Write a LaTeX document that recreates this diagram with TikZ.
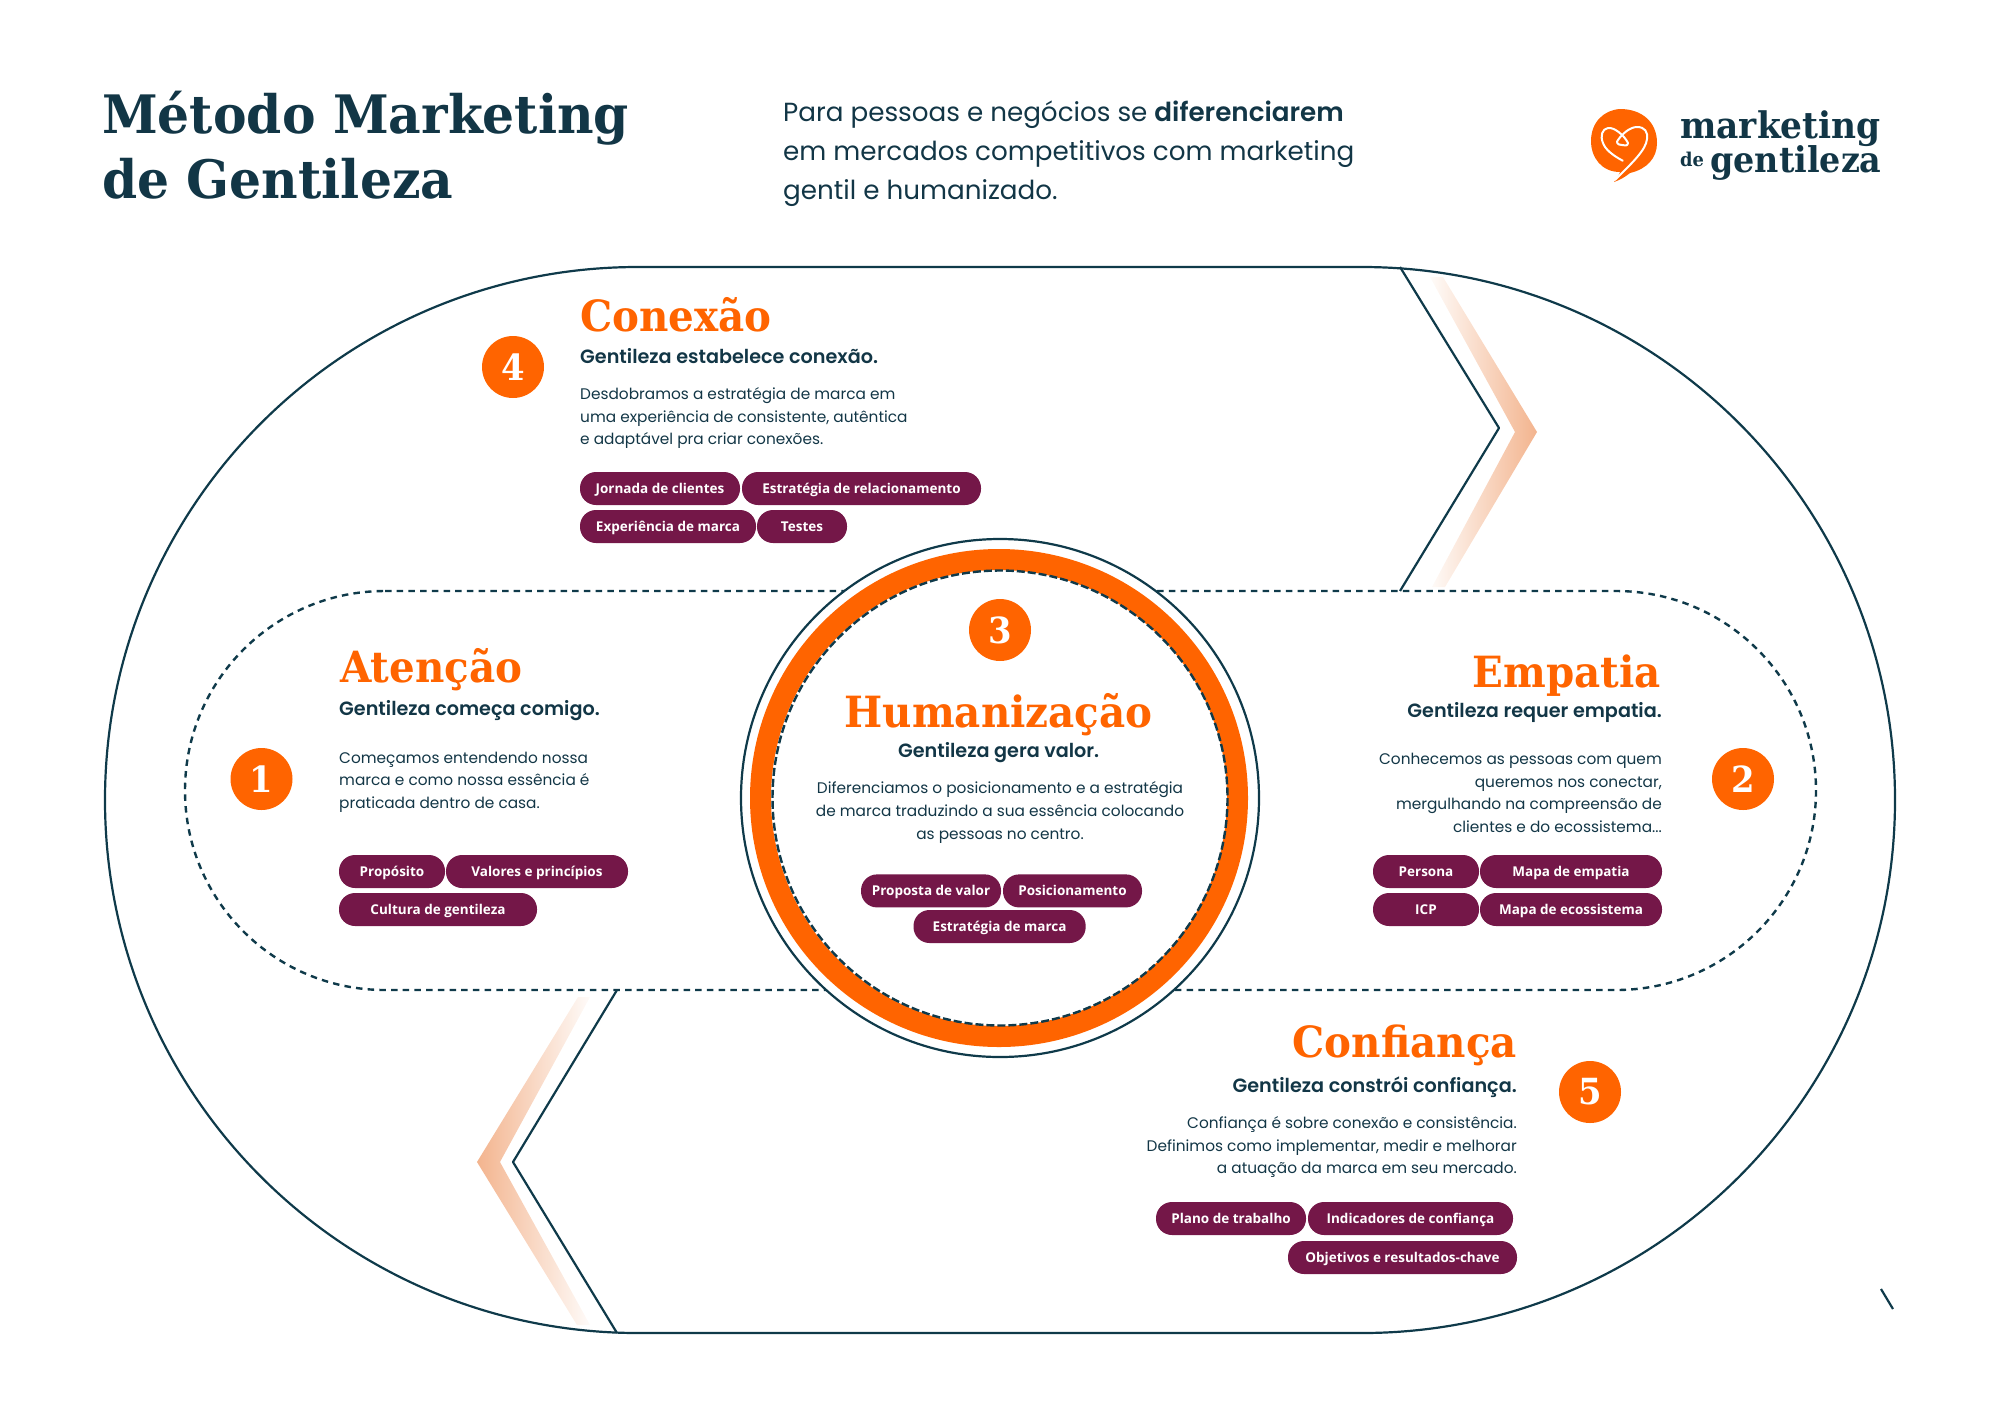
\documentclass[tikz,border=0pt]{standalone}
\usepackage{fontspec}
\setmainfont{Poppins}
\newfontfamily\headf{DejaVu Serif}[FakeStretch=0.94]
\newfontfamily\titlef{DejaVu Serif}[FakeStretch=0.95]
\newfontfamily\bodyf{Poppins}[BoldFont={Poppins SemiBold}]
\newfontfamily\pillf{Open Sans}
\definecolor{navy}{HTML}{123646}
\definecolor{lnavy}{HTML}{0F3A4A}
\definecolor{orange}{HTML}{FF6400}
\definecolor{wine}{HTML}{741748}
\definecolor{peach}{HTML}{F3B48E}
\tikzset{
  x=1pt,y=-1pt,
  mainline/.style={draw=lnavy,line width=2.2pt,line join=round},
  dashline/.style={draw=lnavy,line width=2.4pt,dash pattern=on 6.5pt off 5.2pt},
  headt/.style={inner sep=0pt,text=orange,font={\headf\bfseries\fontsize{43}{43}\selectfont}},
  subt/.style={inner sep=0pt,text=navy,font={\bodyf\bfseries\fontsize{19.2}{20}\selectfont}},
  bodyt/.style={inner sep=0pt,text=navy,font={\bodyf\fontsize{15.35}{22.6}\selectfont}},
  pill/.style={fill=wine,rounded corners=16pt,inner sep=0pt},
  pillt/.style={inner sep=0pt,anchor=base,text=white,font={\pillf\bfseries\fontsize{13.5}{13.5}\selectfont}},
  numb/.style={circle,fill=orange,minimum size=62pt,inner sep=0pt,text=white,font={\headf\bfseries\fontsize{36}{36}\selectfont}},
  titlet/.style={anchor=base west,inner sep=0pt,text=navy,font={\titlef\bfseries\fontsize{53}{53}\selectfont}},
  leadt/.style={anchor=base west,inner sep=0pt,text=navy,font={\bodyf\fontsize{26.2}{27}\selectfont}},
}
\newcommand{\pillbox}[6]{% name,x1,y1,x2,y2,text
  \fill[pill] (#2,#3) rectangle (#4,#5);
  \node[pillt] (#1) at ({(#2+#4)/2},{(#3+#5)/2+4.7}) {#6};}
\begin{document}
\begin{tikzpicture}
\useasboundingbox (0,0) rectangle (2000,1414);
% outer pill
\draw[mainline] (638,267) -- (1362,267) arc[start angle=90,end angle=-90,x radius=533,y radius=-533]
  -- (638,1333) arc[start angle=-90,end angle=-270,x radius=533,y radius=-533] -- cycle;
% dashed pill
\draw[dashline] (385,591) -- (1616,591) arc[start angle=90,end angle=-90,x radius=200,y radius=-199.5]
  -- (385,990) arc[start angle=-90,end angle=-270,x radius=200,y radius=-199.5] -- cycle;
% chevrons
\shade[left color=peach!5!white,right color=peach] (1430,277) -- (1443,277) -- (1537,432) -- (1445,587) -- (1432,587) -- (1515,432) -- cycle;
\draw[mainline] (1400,267) -- (1499,428) -- (1400,591);
\shade[right color=peach!5!white,left color=peach] (578,997) -- (590,997) -- (500,1162) -- (590,1325) -- (577,1325) -- (477,1162) -- cycle;
\draw[mainline] (617,990) -- (513,1162) -- (617,1333);
\draw[lnavy,line width=2.2pt] (1881,1289) -- (1893,1309);
% central circle
\fill[white] (1000,798) circle[radius=259];
\draw[mainline] (1000,798) circle[radius=259];
\draw[orange,line width=21pt] (999,798) circle[radius=238.5];
\draw[draw=lnavy,line width=2.4pt,dash pattern=on 8pt off 3pt] (1000,798) circle[radius=227.5];
% header
\node[titlet] (title1) at (102,133) {Método Marketing};
\node[titlet] (title2) at (102,198) {de Gentileza};
\node[leadt] (lead1) at (783,121.5) {Para pessoas e negócios se \textbf{diferenciarem}};
\node[leadt] (lead2) at (783,160.5) {em mercados competitivos com marketing};
\node[leadt] (lead3) at (783,199) {gentil e humanizado.};
% logo
\fill[orange] (1620,109) .. controls (1642,109) and (1657,122) .. (1657,143)
  .. controls (1657,158) and (1647,169) .. (1630,173)
  .. controls (1625,177) and (1620,180) .. (1614,182)
  .. controls (1617,178) and (1619,175) .. (1620,172)
  .. controls (1602,172) and (1591,158) .. (1591,141)
  .. controls (1591,122) and (1604,110) .. (1620,109) -- cycle;
\draw[white,line width=2pt,line cap=round,line join=round] (1622.7,160.7)
  .. controls (1612,155) and (1605,149) .. (1603,143)
  .. controls (1600,136) and (1602,129) .. (1608,128)
  .. controls (1614,127) and (1624,135) .. (1628,143)
  .. controls (1628,146) and (1624,146) .. (1622,145)
  .. controls (1617,145) and (1616,142) .. (1618,140)
  .. controls (1622,134) and (1630,127) .. (1637,127)
  .. controls (1645,127) and (1648,132) .. (1647,139)
  .. controls (1646,150) and (1632,163) .. (1615,180);
\node[anchor=base west,inner sep=0pt,text=navy,font={\headf\bfseries\fontsize{36.6}{37}\selectfont}] (logo1) at (1680,138) {marketing};
\node[anchor=base west,inner sep=0pt,text=navy,font={\headf\bfseries\fontsize{19}{19}\selectfont}] (logo2) at (1680,166) {de};
\node[anchor=base west,inner sep=0pt,text=navy,font={\headf\bfseries\fontsize{35.5}{36}\selectfont}] (logo3) at (1710,172) {gentileza};
% numbers
\node[numb] (n1) at (261.5,779) {1};
\node[numb] (n2) at (1743,779) {2};
\node[numb] (n3) at (1000,630) {3};
\node[numb] (n4) at (513,367) {4};
\node[numb] (n5) at (1590,1092) {5};
% Conexao
\node[headt,anchor=base west] (h4) at (580,331) {Conexão};
\node[subt,anchor=base west] (s4) at (580,363) {Gentileza estabelece conexão.};
\node[bodyt,anchor=base west] (b4a) at (580,399) {Desdobramos a estratégia de marca em};
\node[bodyt,anchor=base west] (b4b) at (580,422) {uma experiência de consistente, autêntica};
\node[bodyt,anchor=base west] (b4c) at (580,444) {e adaptável pra criar conexões.};
\pillbox{p41}{580}{472}{740}{505}{Jornada de clientes}
\pillbox{p42}{742}{472}{981}{505}{Estratégia de relacionamento}
\pillbox{p43}{580}{510}{756}{543}{Experiência de marca}
\pillbox{p44}{757}{510}{847}{543}{Testes}
% Atencao
\node[headt,anchor=base west] (h1) at (340,682) {Atenção};
\node[subt,anchor=base west] (s1) at (339,715) {Gentileza começa comigo.};
\node[bodyt,anchor=base west] (b1a) at (339,763) {Começamos entendendo nossa};
\node[bodyt,anchor=base west] (b1b) at (339,785) {marca e como nossa essência é};
\node[bodyt,anchor=base west] (b1c) at (339,808) {praticada dentro de casa.};
\pillbox{p11}{339}{855}{445}{888}{Propósito}
\pillbox{p12}{446}{855}{628}{888}{Valores e princípios}
\pillbox{p13}{339}{893}{537}{926}{Cultura de gentileza}
% Empatia
\node[headt,anchor=base east] (h2) at (1661,687) {Empatia};
\node[subt,anchor=base east] (s2) at (1662,717) {Gentileza requer empatia.};
\node[bodyt,anchor=base east] (b2a) at (1662,764) {Conhecemos as pessoas com quem};
\node[bodyt,anchor=base east] (b2b) at (1662,787) {queremos nos conectar,};
\node[bodyt,anchor=base east] (b2c) at (1662,809) {mergulhando na compreensão de};
\node[bodyt,anchor=base east] (b2d) at (1662,832) {clientes e do ecossistema...};
\pillbox{p21}{1373}{855}{1479}{888}{Persona}
\pillbox{p22}{1480}{855}{1662}{888}{Mapa de empatia}
\pillbox{p23}{1373}{893}{1479}{926}{ICP}
\pillbox{p24}{1480}{893}{1662}{926}{Mapa de ecossistema}
% Humanizacao
\node[headt,anchor=base] (h3) at (998.6,727) {Humanização};
\node[subt,anchor=base] (s3) at (998.6,757) {Gentileza gera valor.};
\node[bodyt,anchor=base] (b3a) at (1000,793.4) {Diferenciamos o posicionamento e a estratégia};
\node[bodyt,anchor=base] (b3b) at (1000,816.5) {de marca traduzindo a sua essência colocando};
\node[bodyt,anchor=base] (b3c) at (1000,839) {as pessoas no centro.};
\pillbox{p31}{861}{874.4}{1001}{907.4}{Proposta de valor}
\pillbox{p32}{1003}{874.4}{1142}{907.4}{Posicionamento}
\pillbox{p33}{913.5}{910}{1085.7}{943}{Estratégia de marca}
% Confianca
\node[headt,anchor=base east] (h5) at (1517,1057) {Confiança};
\node[subt,anchor=base east] (s5) at (1517,1092) {Gentileza constrói confiança.};
\node[bodyt,anchor=base east] (b5a) at (1517,1128) {Confiança é sobre conexão e consistência.};
\node[bodyt,anchor=base east] (b5b) at (1517,1151) {Definimos como implementar, medir e melhorar};
\node[bodyt,anchor=base east] (b5c) at (1517,1173) {a atuação da marca em seu mercado.};
\pillbox{p51}{1156}{1202}{1306}{1235}{Plano de trabalho}
\pillbox{p52}{1308}{1202}{1513}{1235}{Indicadores de confiança}
\pillbox{p53}{1288}{1241}{1517}{1274}{Objetivos e resultados-chave}
\end{tikzpicture}
\end{document}
